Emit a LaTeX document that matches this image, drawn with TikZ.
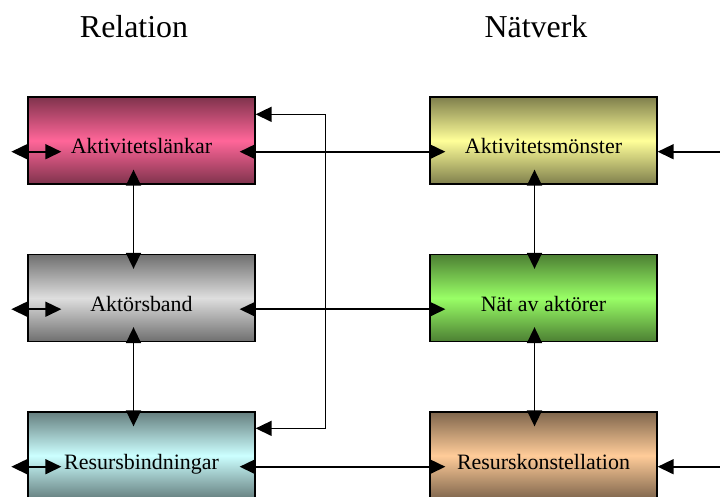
\documentclass[tikz,border=0pt]{standalone}
\usepackage{fontspec}
\setmainfont{Liberation Serif}
\usetikzlibrary{arrows.meta}

\definecolor{lankpink}{RGB}{255,102,153}
\definecolor{monsteryellow}{RGB}{255,255,153}
\definecolor{bandgrey}{RGB}{222,222,222}
\definecolor{natgreen}{RGB}{153,255,102}
\definecolor{bindcyan}{RGB}{204,255,255}
\definecolor{konstorange}{RGB}{255,204,153}

\tikzset{
  box/.style={draw=black, line width=1.3bp, minimum width=227bp, minimum height=87bp,
    inner sep=0pt, text height=30bp, text depth=3bp, font=\fontsize{22}{24}\selectfont,
    top color=#1!50!black, bottom color=#1!50!black, middle color=#1},
  title/.style={anchor=base, font=\fontsize{32}{36}\selectfont},
  every edge/.style={draw, line width=1.6bp},
  >={Triangle[length=16bp,width=15bp]},
}

\begin{document}
\begin{tikzpicture}[x=1bp,y=-1bp]
    \clip (0,0) rectangle (720,497);
    \node[title] (rel) at (134,38) {Relation};
    \node[title] (natv) at (536,38) {Nätverk};
    \node[box=lankpink] (akt) at (141.5,140.5) {Aktivitetslänkar};
    \node[box=monsteryellow] (aktm) at (543.5,140.5) {Aktivitetsmönster};
    \node[box=bandgrey] (band) at (141.5,298) {Aktörsband};
    \node[box=natgreen] (nat) at (543.5,298) {Nät av aktörer};
    \node[box=bindcyan] (rb) at (141.5,455.5) {Resursbindningar};
    \node[box=konstorange] (rk) at (543.5,455.5) {Resurskonstellation};
    \path (akt.mid east) edge[<->,shorten <=-16bp,shorten >=-16bp] (aktm.mid west)
    (band.mid east) edge[<->,shorten <=-16bp,shorten >=-16bp] (nat.mid west)
    (rb.mid east) edge[<->,shorten <=-16bp,shorten >=-16bp] (rk.mid west);
    \path ([xshift=-8bp]akt.south) edge[<->,shorten <=-15bp,shorten >=-15bp] ([xshift=-8bp]band.north)
    ([xshift=-8bp]band.south) edge[<->,shorten <=-15bp,shorten >=-15bp] ([xshift=-8bp]rb.north)
    ([xshift=-9bp]aktm.south) edge[<->,shorten <=-15bp,shorten >=-15bp] ([xshift=-9bp]nat.north)
    ([xshift=-9bp]nat.south) edge[<->,shorten <=-15bp,shorten >=-15bp] ([xshift=-9bp]rk.north);
    \path ([xshift=-16bp]akt.mid west) edge[<->] ([xshift=34bp]akt.mid west)
    ([xshift=-16bp]band.mid west) edge[<->] ([xshift=34bp]band.mid west)
    ([xshift=-16bp]rb.mid west) edge[<->] ([xshift=34bp]rb.mid west);
    \path ([xshift=63bp]aktm.mid east) edge[->] (aktm.mid east)
    ([xshift=63bp]rk.mid east) edge[->] (rk.mid east);
    % loop from the top box down to the bottom one
    \draw[<->,line width=1.6bp] ([yshift=-18bp]akt.north east) -- ++(70,0) |- ([yshift=-17bp]rb.north east);
  \end{tikzpicture}
\end{document}
